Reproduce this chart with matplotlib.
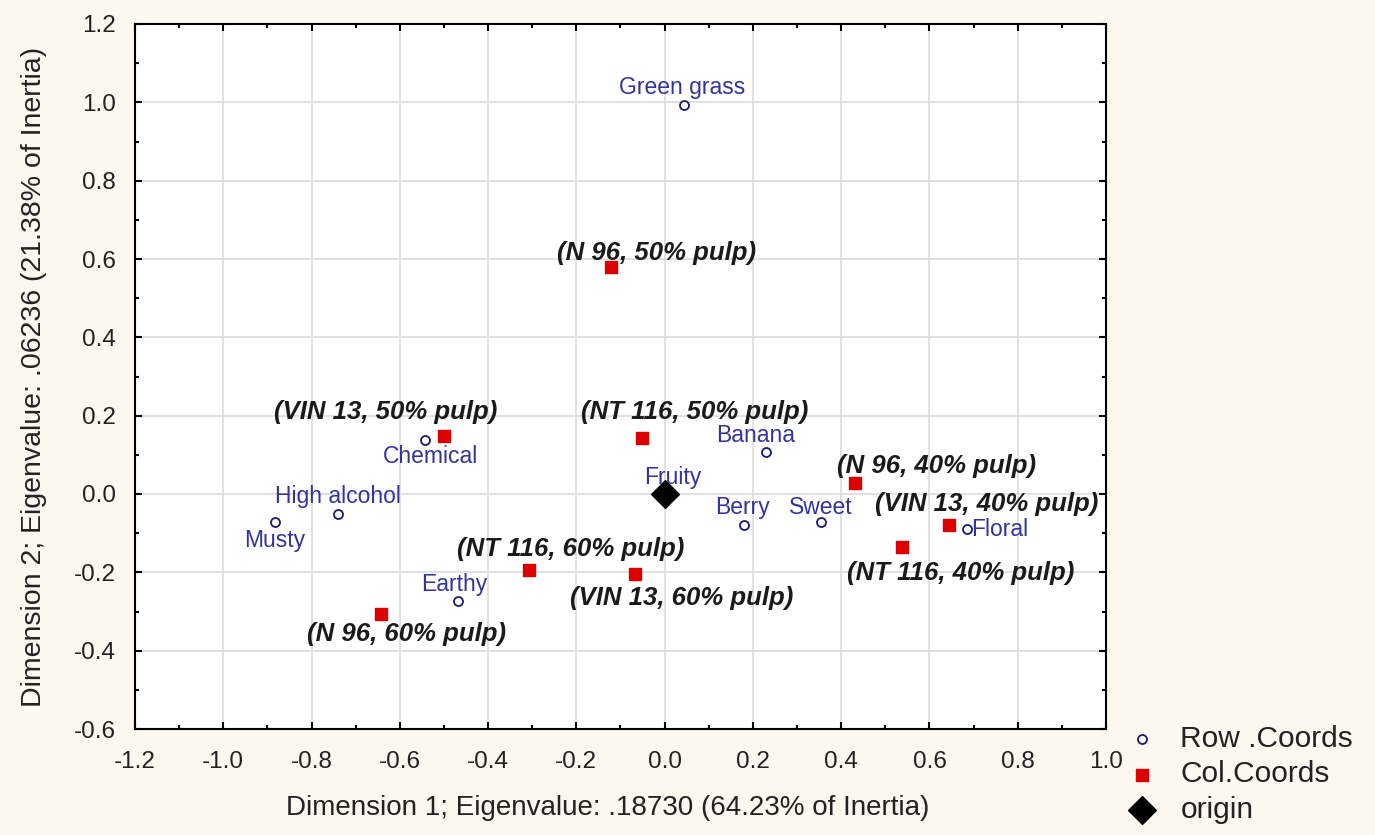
import matplotlib
matplotlib.use("Agg")
import matplotlib.pyplot as plt
from matplotlib.ticker import MultipleLocator

# ---- data ----
row_labels = ["Green grass", "Chemical", "High alcohol", "Musty", "Earthy",
              "Fruity", "Banana", "Berry", "Sweet", "Floral"]
row_x = [0.045, -0.542, -0.739, -0.882, -0.469, 0.005, 0.229, 0.179, 0.354, 0.685]
row_y = [0.992, 0.138, -0.051, -0.072, -0.274, -0.005, 0.108, -0.079, -0.072, -0.090]

col_labels = ["(N 96, 50% pulp)", "(VIN 13, 50% pulp)", "(NT 116, 50% pulp)",
              "(N 96, 40% pulp)", "(VIN 13, 40% pulp)", "(NT 116, 40% pulp)",
              "(NT 116, 60% pulp)", "(VIN 13, 60% pulp)", "(N 96, 60% pulp)"]
col_x = [-0.122, -0.501, -0.052, 0.431, 0.644, 0.537, -0.308, -0.068, -0.642]
col_y = [0.579, 0.149, 0.143, 0.028, -0.079, -0.136, -0.195, -0.205, -0.307]

origin_x = [0.0]
origin_y = [0.0]

x_ticks = [-1.2, -1.0, -0.8, -0.6, -0.4, -0.2, 0.0, 0.2, 0.4, 0.6, 0.8, 1.0]
y_ticks = [-0.6, -0.4, -0.2, 0.0, 0.2, 0.4, 0.6, 0.8, 1.0, 1.2]

x_label = "Dimension 1; Eigenvalue: .18730 (64.23% of Inertia)"
y_label = "Dimension 2; Eigenvalue: .06236 (21.38% of Inertia)"

# label offsets in pixels (dx right, dy down) relative to points
row_off = [(-2, -18), (5, 17), (-1, -17), (-1, 18), (-3, -17),
           (6, -18), (-10, -16), (-1, -17), (0, -15), (33, 0)]
col_off = [(46, -14), (-58, -24), (53, -26), (82, -17), (38, -21),
           (59, 26), (42, -21), (47, 24), (25, 20)]

# ---- figure ----
DPI = 100
W, H = 1375, 835
fig = plt.figure(figsize=(W / DPI, H / DPI), dpi=DPI, facecolor="#fcf8ef")
L, R, T, B = 135, 1106, 24, 729
ax = fig.add_axes([L / W, 1 - B / H, (R - L) / W, (B - T) / H])
ax.set_facecolor("white")

FONT = "Liberation Sans"
blue = "#33339e"

ax.set_xticks(x_ticks)
ax.set_yticks(y_ticks)
ax.set_xticklabels([f"{v:.1f}" for v in x_ticks])
ax.set_yticklabels([f"{v:.1f}" for v in y_ticks])
ax.set_xlim(x_ticks[0], x_ticks[-1])
ax.set_ylim(y_ticks[0], y_ticks[-1])
ax.xaxis.set_minor_locator(MultipleLocator(0.1))
ax.yaxis.set_minor_locator(MultipleLocator(0.1))
ax.grid(True, which="major", color="#dcdcdc", linewidth=1.2)
ax.set_axisbelow(True)
ax.tick_params(which="both", direction="in", top=True, right=True, width=1.5,
               colors="black")
ax.tick_params(which="major", length=5, labelsize=17.5, labelfontfamily=FONT)
ax.tick_params(which="minor", length=3)
ax.tick_params(axis="x", which="major", pad=16)
ax.tick_params(axis="y", which="major", pad=14)
for lab in ax.get_xticklabels() + ax.get_yticklabels():
    lab.set_color("#222222")
for s in ax.spines.values():
    s.set_linewidth(1.5)
    s.set_color("black")

ax.set_xlabel(x_label, fontsize=20, family=FONT, color="#222222", va="center")
ax.xaxis.set_label_coords((608 - L) / (R - L), -(808 - B) / (B - T))
ax.set_ylabel(y_label, fontsize=20.5, family=FONT, color="#222222", va="center")
ax.yaxis.set_label_coords(-(L - 34) / (R - L), (B - 377) / (B - T))

ax.scatter(row_x, row_y, marker="o", s=42, facecolors="white",
           edgecolors="#1a1a6e", linewidths=1.3, zorder=3, label="Row .Coords")
ax.scatter(col_x, col_y, marker="s", s=78, color="#dd0000", zorder=4,
           label="Col.Coords")
ax.scatter(origin_x, origin_y, marker="D", s=200, color="black", zorder=5,
           label="origin")

px = 72 / DPI
for lab, x, y, (dx, dy) in zip(row_labels, row_x, row_y, row_off):
    ax.annotate(lab, (x, y), xytext=(dx * px, -dy * px), textcoords="offset points",
                ha="center", va="center", fontsize=16.5, family=FONT, color=blue,
                zorder=6)
for lab, x, y, (dx, dy) in zip(col_labels, col_x, col_y, col_off):
    ax.annotate(lab, (x, y), xytext=(dx * px, -dy * px), textcoords="offset points",
                ha="center", va="center", fontsize=18.5, family=FONT,
                fontweight="bold", fontstyle="italic", color="#1a1a1a", zorder=6)

leg = fig.legend(loc="center left", bbox_to_anchor=(1128 / W, 1 - 774.5 / H),
                 frameon=False, prop={"family": FONT, "size": 21.5},
                 handlelength=0.95, handletextpad=0.8, labelspacing=0.26,
                 borderpad=0, borderaxespad=0)
for t in leg.get_texts():
    t.set_color("#222222")

fig.savefig("out.png", dpi=DPI, facecolor=fig.get_facecolor())
